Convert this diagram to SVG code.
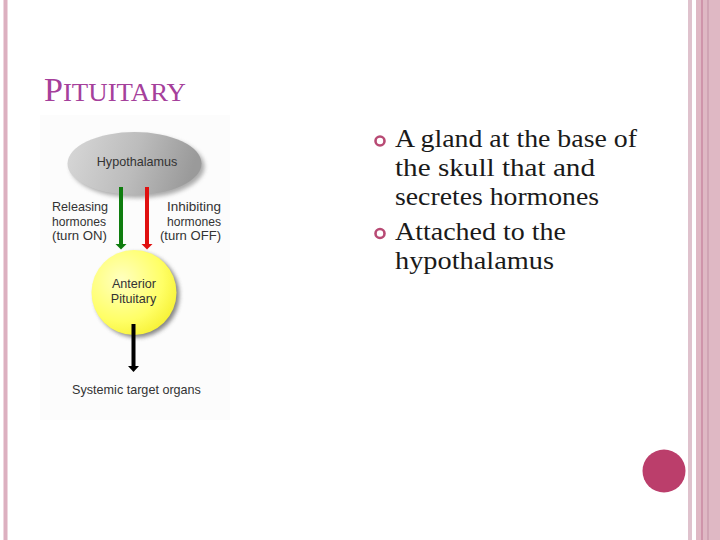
<svg xmlns="http://www.w3.org/2000/svg" width="720" height="540" viewBox="0 0 720 540">
<defs>
<linearGradient id="hyp" x1="0" y1="0" x2="1" y2="0.15"><stop offset="0" stop-color="#d8d8d8"/><stop offset="0.55" stop-color="#bcbcbc"/><stop offset="1" stop-color="#9a9a9a"/></linearGradient>
<radialGradient id="pit" cx="0.35" cy="0.35" r="0.75"><stop offset="0" stop-color="#ffffc0"/><stop offset="0.65" stop-color="#ffff66"/><stop offset="1" stop-color="#f6f030"/></radialGradient>
<filter id="sh" x="-20%" y="-20%" width="140%" height="140%"><feGaussianBlur stdDeviation="2.2"/></filter>
</defs>
<style>
.b{font-family:"Liberation Serif","DejaVu Serif",serif;font-size:25px;fill:#1a1a1a}
.l{font-family:"Liberation Sans",Arial,sans-serif;font-size:12.6px;fill:#333}
.m{text-anchor:middle}.e{text-anchor:end}
.t{font-family:"Liberation Serif",serif;fill:#a5409b}
</style>
<rect width="720" height="540" fill="#fff"/>
<g id="background">
<rect x="3" y="0" width="5" height="540" fill="#eed6de"/><rect x="4" y="0" width="3" height="540" fill="#dcb0c0"/>
<rect x="688" y="0" width="4" height="540" fill="#dfc2cd"/>
<rect x="696" y="0" width="24" height="540" fill="#dfb8c4"/>
<rect x="701" y="0" width="2" height="540" fill="#cf94aa"/>
<rect x="707" y="0" width="2" height="540" fill="#d0a4b4"/>
<circle cx="664" cy="471" r="21.500" fill="#bb3e6b"/>
</g>
<g id="title"><text x="44" y="101" class="t" font-size="33" textLength="142" lengthAdjust="spacingAndGlyphs">P<tspan font-size="26">ITUITARY</tspan></text></g>
<g id="bullets">
<circle cx="380" cy="141" r="4.500" fill="none" stroke="#b84a74" stroke-width="2.600"/>
<circle cx="380" cy="233.500" r="4.500" fill="none" stroke="#b84a74" stroke-width="2.600"/>
<text x="395" y="147" class="b" textLength="242" lengthAdjust="spacingAndGlyphs">A gland at the base of</text>
<text x="395" y="176" class="b" textLength="200" lengthAdjust="spacingAndGlyphs">the skull that and</text>
<text x="395" y="205" class="b" textLength="204" lengthAdjust="spacingAndGlyphs">secretes hormones</text>
<text x="395" y="240" class="b" textLength="171" lengthAdjust="spacingAndGlyphs">Attached to the</text>
<text x="395" y="269" class="b" textLength="159" lengthAdjust="spacingAndGlyphs">hypothalamus</text>
</g>
<rect x="40" y="115" width="190" height="305" fill="#fcfcfc"/>
<g id="hypothalamus">
<ellipse cx="137.500" cy="166.500" rx="67" ry="31.500" fill="#777" opacity=".6" filter="url(#sh)"/>
<ellipse cx="134.500" cy="163.500" rx="67" ry="31.500" fill="url(#hyp)"/>
<text x="137" y="166" class="l m">Hypothalamus</text>
</g>
<g id="pituitary">
<circle cx="137" cy="295" r="42.500" fill="#555" opacity=".7" filter="url(#sh)"/>
<circle cx="134" cy="292.500" r="42.500" fill="url(#pit)"/>
<text x="134" y="288" class="l m">Anterior</text>
<text x="133.500" y="303" class="l m">Pituitary</text>
</g>
<g id="labels">
<text x="52" y="211" class="l" textLength="56" lengthAdjust="spacingAndGlyphs">Releasing</text>
<text x="52" y="226" class="l" textLength="54" lengthAdjust="spacingAndGlyphs">hormones</text>
<text x="52" y="240" class="l" textLength="55" lengthAdjust="spacingAndGlyphs">(turn ON)</text>
<text x="167" y="211" class="l" textLength="54" lengthAdjust="spacingAndGlyphs">Inhibiting</text>
<text x="167" y="226" class="l" textLength="54" lengthAdjust="spacingAndGlyphs">hormones</text>
<text x="160" y="240" class="l" textLength="61" lengthAdjust="spacingAndGlyphs">(turn OFF)</text>
<text x="136.500" y="394" class="l m">Systemic target organs</text>
</g>
<g id="connectors" stroke-width="4">
<path d="M121 187V244" stroke="#0f7d0f"/><path d="M115.500 244h11l-5.500 5.500z" fill="#0f7d0f"/>
<path d="M147 187V244" stroke="#e01010"/><path d="M141.500 244h11l-5.500 5.500z" fill="#e01010"/>
<path d="M133.500 324V366" stroke="#000"/><path d="M128 366h11l-5.500 6z" fill="#000"/>
</g>
</svg>
